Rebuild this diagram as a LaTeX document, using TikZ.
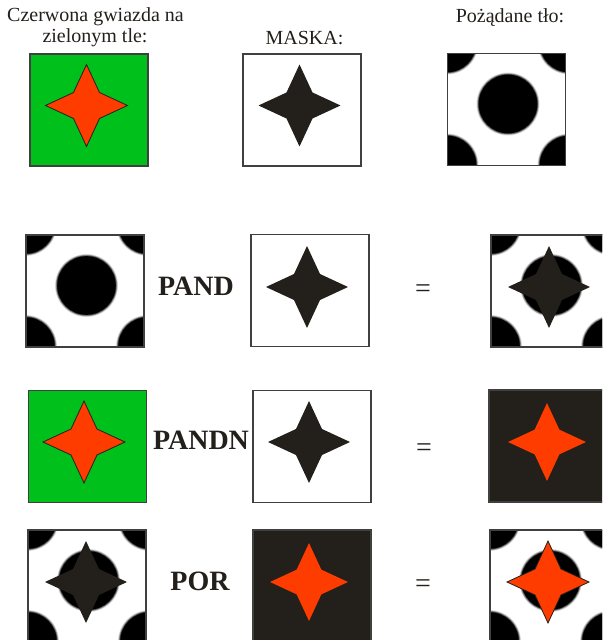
\documentclass[tikz,border=0pt]{standalone}
\usepackage{fontspec}
\setmainfont{Liberation Serif}[BoldFont={Liberation Serif Bold}]
\definecolor{grn}{RGB}{0,193,28}
\definecolor{rd}{RGB}{255,60,0}
\definecolor{dk}{RGB}{35,31,26}
\begin{document}
\begin{tikzpicture}[x=0.5pt,y=-0.5pt,
  frame/.style={draw=black!75, line width=0.6pt, minimum width=59pt, minimum height=56pt, inner sep=0pt, outer sep=0pt},
  title/.style={font=\fontsize{10pt}{10.5pt}\selectfont, text=dk, inner sep=0pt, anchor=base},
  opname/.style={font=\fontsize{14pt}{14pt}\selectfont\bfseries, text=dk, inner sep=0pt, anchor=base},
  eqsign/.style={font=\fontsize{14pt}{14pt}\selectfont, text=dk, inner sep=0pt},
  fourstar/.pic={\path[pic actions] (0,-41) -- (13,-13) -- (41,0) -- (13,13) -- (0,41) -- (-13,13) -- (-41,0) -- (-13,-13) -- cycle;},
  dots/.pic={
    \begin{scope}
      \clip (-59,-56) rectangle (59,56);
      \fill[white] (-59,-56) rectangle (59,56);
      \foreach \p in {(1.5,-5.5),(-59.5,-66.5),(62.5,-66.5),(-59.5,55.5),(62.5,55.5)} {
        \fill[black!15] \p circle (31.4);
        \fill[black!40] \p circle (30.7);
        \fill[black!70] \p circle (30);
        \fill[black] \p circle (29.3);
      }
    \end{scope}
  },
  redstar/.style={fill=rd, draw=dk, line width=0.4pt},
  darkstar/.style={fill=dk, draw=none},
  plainred/.style={fill=rd, draw=none}
]
\useasboundingbox (0,0) rectangle (602,640);
\clip (0,0) rectangle (602,640);

% titles
\node[title] (t1a) at (95.5,22) {Czerwona gwiazda na};
\node[title] (t1b) at (95,43) {zielonym tle:};
\node[title] (t2) at (304.5,45) {MASKA:};
\node[title] (t3) at (510,23) {Pożądane tło:};

% row 1
\node[frame, fill=grn] (g1) at (89,110) {};
\pic[redstar] at (86.5,105.5) {fourstar};
\node[frame, fill=white] (m1) at (302,110) {};
\pic[darkstar] at (299.5,105.5) {fourstar};
\pic at (506.5,109.5) {dots};
\node[frame] (p1) at (506.5,109.5) {};

% row 2
\pic at (85,291) {dots};
\node[frame] (p2) at (85,291) {};
\node[opname] (pand) at (196,295) {PAND};
\node[frame, fill=white] (m2) at (310,290.5) {};
\pic[darkstar] at (307,287) {fourstar};
\node[eqsign] (e2) at (423,291) {=};
\pic at (550,291) {dots};
\node[frame] (r2) at (550,291) {};
\pic[darkstar] at (549,287) {fourstar};

% row 3
\node[frame, fill=grn] (g3) at (87.5,446.5) {};
\pic[redstar] at (84,442) {fourstar};
\node[opname] (pandn) at (201,449) {PANDN};
\node[frame, fill=white] (m3) at (312,446.5) {};
\pic[darkstar] at (309,442) {fourstar};
\node[eqsign] (e3) at (424,450) {=};
\node[frame, fill=dk] (r3) at (548,446) {};
\pic[plainred, scale=0.95] at (547,442) {fourstar};

% row 4
\pic at (87,586) {dots};
\node[frame] (p4) at (87,586) {};
\pic[darkstar] at (86,582) {fourstar};
\node[opname] (por) at (200,590) {POR};
\node[frame, fill=dk] (b4) at (312,586) {};
\pic[plainred, scale=0.95] at (309,582) {fourstar};
\node[eqsign] (e4) at (423,586) {=};
\pic at (549,586) {dots};
\node[frame] (r4) at (549,586) {};
\pic[redstar] at (548,582) {fourstar};
\end{tikzpicture}
\end{document}
